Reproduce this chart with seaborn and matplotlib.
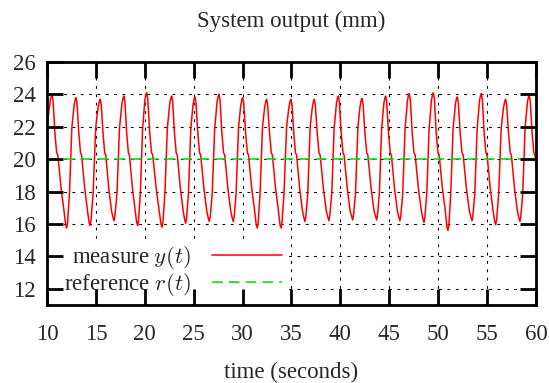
import numpy as np
import pandas as pd
import matplotlib.pyplot as plt
import seaborn as sns

peak_t = [10.51, 12.97, 15.45, 17.87, 20.19, 22.75, 25.13, 27.59, 30.01, 32.46, 34.95,
          37.33, 39.79, 42.21, 44.63, 47.04, 49.50, 51.95, 54.41, 56.90, 59.31]
peak_y = [24.0, 23.8, 23.7, 23.9, 24.1, 23.9, 23.85, 24.0, 23.8, 23.7, 23.7,
          23.7, 23.9, 23.75, 23.9, 24.05, 24.1, 23.85, 24.05, 23.7, 23.95]
trough_t = [12.01, 14.40, 16.85, 19.27, 21.76, 24.18, 26.60, 29.05, 31.50, 33.93,
            36.38, 38.83, 41.26, 43.71, 46.09, 48.55, 51.00, 53.46, 55.88, 58.36]
trough_y = [15.75, 15.9, 16.2, 15.9, 15.8, 16.05, 16.15, 16.15, 15.75, 15.75,
            16.15, 16.2, 16.25, 16.25, 16.2, 16.1, 15.6, 16.2, 15.95, 16.15]

# beginning of the record, before the first peak
start_t = [10.0, 10.06, 10.12, 10.35]
start_y = [20.0, 22.3, 22.6, 23.7]

# shape of one swing (fraction of the swing duration -> level)
fall_frac = [0.07, 0.20, 0.32, 0.40, 0.62, 0.82, 0.93]
fall_y = [-0.35, 21.6, 20.4, 20.25, 18.2, 16.8, 0.2]    # first/last relative to peak/trough
rise_frac = [0.10, 0.30, 0.55, 0.63, 0.80, 0.92]
rise_y = [0.35, 17.9, 21.9, 22.4, -0.45, -0.1]          # first relative to trough, last two to peak
last_fall = 1.47

ref_t = [10, 60]
ref_y = [20, 20]

# assemble the measured curve from the read points
ts, ys = list(start_t), list(start_y)
for i, (tp, hi) in enumerate(zip(peak_t, peak_y)):
    ts.append(tp)
    ys.append(hi)
    if i < len(trough_t):
        tt, lo = trough_t[i], trough_y[i]
        d = tt - tp
    else:
        tt, lo, d = None, 16.0, last_fall
    for k, (f, v) in enumerate(zip(fall_frac, fall_y)):
        if k == 0:
            v = hi + v
        elif k == len(fall_frac) - 1:
            v = lo + v
        ts.append(tp + f * d)
        ys.append(v)
    if tt is None:
        break
    ts.append(tt)
    ys.append(lo)
    if i + 1 < len(peak_t):
        r = peak_t[i + 1] - tt
        hi2 = peak_y[i + 1]
        for k, (g, v) in enumerate(zip(rise_frac, rise_y)):
            if k == 0:
                v = lo + v
            elif k >= len(rise_frac) - 2:
                v = hi2 + v
            ts.append(tt + g * r)
            ys.append(v)

meas = pd.DataFrame({"t": ts, "y": ys})
ref = pd.DataFrame({"t": ref_t, "y": ref_y})

sns.set_theme(style="white")
plt.rcParams['font.family'] = ['Liberation Serif', 'DejaVu Serif']
plt.rcParams['mathtext.fontset'] = 'cm'
plt.rcParams['font.size'] = 16.5

fig = plt.figure(figsize=(5.49, 3.83), dpi=100)
pos = [0.0856, 0.2037, 0.8907, 0.6344]
ax = fig.add_axes(pos)

sns.lineplot(data=meas, x="t", y="y", ax=ax, color="#ff0000", linewidth=1.1,
             estimator=None, sort=False, label="measure $y(t)$")
sns.lineplot(data=ref, x="t", y="y", ax=ax, color="#00dd00", linewidth=1.1,
             estimator=None, sort=False, label="reference $r(t)$")
ax.lines[1].set_dashes([7, 4])

ax.set_xlim(10, 60)
ax.set_ylim(11, 26)
ax.set_xticks(range(10, 61, 5))
ax.set_yticks(range(12, 27, 2))
ax.grid(True, color="black", linestyle=(0, (2.5, 5)), linewidth=0.8)
for s in ax.spines.values():
    s.set_visible(False)
ax.tick_params(length=0, labelsize=16.5, color="black")
ax.tick_params(axis="x", pad=13.5)
ax.tick_params(axis="y", pad=8)

ax.set_title("System output (mm)", fontsize=16.5, pad=25)
ax.set_xlabel("time (seconds)", fontsize=16.5, labelpad=12)
ax.set_ylabel("")

leg = ax.legend(loc="lower left", bbox_to_anchor=(0.027, 0.015), markerfirst=False,
                frameon=True, facecolor="white", edgecolor="none", framealpha=1,
                fancybox=False, borderpad=0.15, borderaxespad=0, labelspacing=0.0,
                handlelength=3.05, handletextpad=0.95, fontsize=16.5)

# border and inward tics drawn on top of the key, as in the original
top = fig.add_axes(pos, sharex=ax, sharey=ax)
top.patch.set_visible(False)
for s in top.spines.values():
    s.set_linewidth(2)
    s.set_color("black")
top.tick_params(direction="in", length=11.5, width=2, top=True, right=True,
                bottom=True, left=True, labelbottom=False, labelleft=False,
                color="black")
top.grid(False)

plt.savefig("out.png", dpi=100)
